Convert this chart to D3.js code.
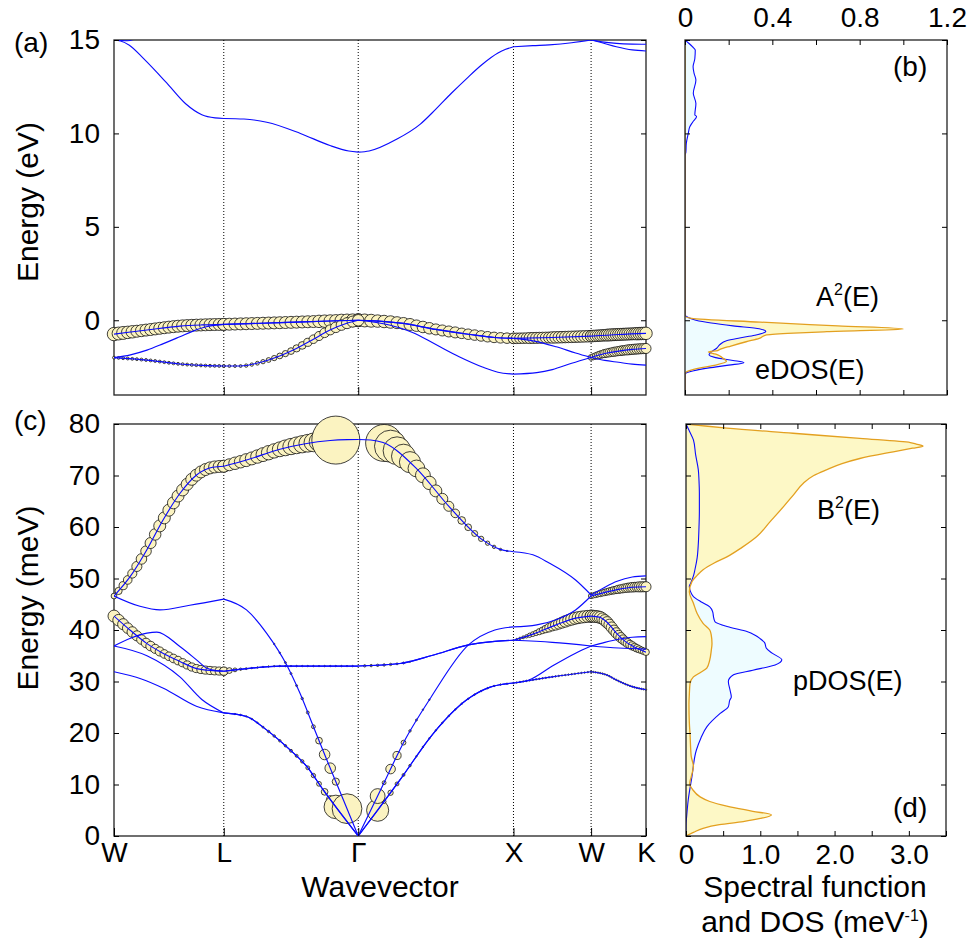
<!DOCTYPE html>
<html>
<head>
<meta charset="utf-8">
<script src="https://cdn.jsdelivr.net/npm/d3@7"></script>
<style>
  html, body { margin: 0; padding: 0; background: #fff; }
  svg { display: block; }
</style>
</head>
<body>
<svg id="fig" width="971" height="948"></svg>
<script>
// ---------- k-path W–L–Γ–X–W–K of the fcc Brillouin zone ----------
const pathLabels = ["W", "L", "Γ", "X", "W", "K"];
const pathK = [0, 0.7071, 1.5731, 2.5731, 3.0731, 3.4267];   // |k| in units of 2π/a
const nPerSegment = 24;                                      // k-points per segment

// ---------- electron bands (eV): [path position, energy]; positions 0..5 = W, L, Γ, X, W, K ----------
const cond1 = [[0,15.0],[0.06,14.95],[0.14,14.72],[0.27,14.0],[0.48,12.7],[0.65,11.6],[0.8,11.0],[0.92,10.83],[1,10.8],
  [1.15,10.77],[1.32,10.6],[1.57,10.0],[1.79,9.35],[1.93,9.06],[2,9.0],
  [2.07,9.06],[2.25,9.7],[2.4,10.5],[2.5,11.3],[2.6,12.15],[2.7,12.95],[2.8,13.7],[2.9,14.3],[2.95,14.5],[3,14.64],
  [3.25,14.7],[3.46,14.74],[3.75,14.85],[4,15.0],[4.2,14.9],[4.46,14.82],[4.75,14.78],[5,14.77]];
const cond2a = [[0,15.0],[0.12,14.96],[0.3,15.4]];
const cond2b = [[3.7,15.6],[3.85,15.25],[4,15.0],[4.2,14.85],[4.46,14.64],[4.75,14.47],[5,14.41]];
const val3 = [[0,-0.74],[0.15,-0.63],[0.3,-0.52],[0.6,-0.31],[0.8,-0.25],[1,-0.22],
  [1.42,-0.13],[1.79,-0.04],[1.93,-0.01],[2,0.0],[2.07,-0.02],[2.29,-0.17],[2.5,-0.49],[2.72,-0.76],[2.88,-0.92],[3,-0.97],
  [3.5,-0.92],[4,-0.85],[4.5,-0.76],[5,-0.70]];
const val2 = [[0,-2.0],[0.15,-1.85],[0.3,-1.6],[0.45,-1.25],[0.6,-0.88],[0.72,-0.58],[0.84,-0.35],[0.93,-0.26],[1,-0.22],
  [1.42,-0.13],[1.79,-0.04],[1.93,-0.01],[2,0.0],[2.07,-0.02],[2.29,-0.17],[2.5,-0.49],[2.72,-0.76],[2.88,-0.92],[3,-0.97],
  [3.25,-1.1],[3.55,-1.42],[3.8,-1.75],[4,-1.99],[4.25,-2.15],[4.5,-2.25],[4.75,-2.35],[5,-2.4]];
const val1 = [[0,-2.0],[0.3,-2.13],[0.6,-2.34],[0.85,-2.43],[1,-2.45],
  [1.12,-2.45],[1.29,-2.22],[1.42,-1.9],[1.54,-1.51],[1.67,-1.0],[1.79,-0.52],[1.91,-0.17],[2,0.0],
  [2.2,-0.25],[2.35,-0.65],[2.5,-1.3],[2.65,-1.95],[2.8,-2.5],[2.9,-2.78],[3,-2.88],
  [3.3,-2.8],[3.5,-2.64],[3.75,-2.3],[4,-1.99],[4.25,-1.78],[4.5,-1.65],[4.75,-1.56],[5,-1.51]];

// ---------- phonon branches (meV) ----------
const ph6 = [[0,46.6],[0.145,50.3],[0.297,55.5],[0.448,61.4],[0.6,66.5],[0.752,70.1],[0.9,71.6],[1,71.8],
  [1.169,73.0],[1.418,75.1],[1.791,76.8],[1.92,76.97],[2,77.0],
  [2.08,76.9],[2.16,76.4],[2.374,71.4],[2.587,63.9],[2.801,57.5],[2.91,55.7],[3,55.2],
  [3.25,54.6],[3.46,53.0],[3.8,49.7],[4,46.8],[4.25,48.3],[4.46,49.4],[4.75,50.3],[5,50.5]];
const ph5 = [[0,46.6],[0.236,44.6],[0.418,43.9],[0.69,44.8],[1,46.0],
  [1.169,43.9],[1.318,39.4],[1.468,33.2],[1.567,27.7],[1.667,21.2],[1.766,14.8],[1.89,7.0],[2,0],
  [2.15,9.3],[2.3,18.6],[2.47,27.0],[2.71,37.1],[2.88,40.0],[3,40.6],
  [3.3,41.0],[3.55,42.0],[3.8,43.9],[4,46.6],[4.25,47.3],[4.5,47.9],[4.75,48.3],[5,48.4]];
const ph4 = [[0,42.7],[0.145,40.0],[0.297,37.4],[0.445,35.5],[0.6,33.9],[0.752,32.5],[0.9,32.1],[1,32.0],
  [1.169,32.5],[1.418,33.0],[1.7,33.0],[2,33.0],
  [2.27,33.5],[2.48,35.1],[2.71,37.1],[2.88,37.8],[3,38.0],
  [3.25,39.2],[3.55,41.0],[3.8,42.3],[4,42.7],[4.15,42.5],[4.3,41.4],[4.46,39.4],[4.62,37.8],[4.77,36.8],[5,35.7]];
const ph3 = [[0,36.9],[0.15,38.4],[0.3,39.4],[0.39,39.6],[0.6,36.8],[0.752,34.2],[0.843,32.6],[0.93,32.1],[1,32.0],
  [1.169,32.5],[1.418,33.0],[1.7,33.0],[2,33.0],
  [2.27,33.5],[2.48,35.1],[2.71,37.1],[2.88,37.8],[3,38.0],
  [3.5,37.6],[4,36.9],[4.5,36.5],[5,36.3]];
const ph2 = [[0,36.9],[0.3,35.0],[0.6,30.9],[0.8,26.5],[1,23.9],
  [1.169,23.2],[1.318,20.6],[1.468,17.3],[1.617,13.5],[1.741,8.9],[1.89,3.7],[2,0],
  [2.13,5.2],[2.269,10.9],[2.483,19.9],[2.697,26.4],[2.85,28.9],[3,29.7],
  [3.2,30.3],[3.5,33.0],[3.8,35.5],[4,36.9],[4.25,37.6],[4.5,38.2],[4.75,38.6],[5,38.7]];
const ph1 = [[0,31.9],[0.25,30.5],[0.45,28.7],[0.75,25.2],[1,23.9],
  [1.169,23.2],[1.318,20.6],[1.468,17.3],[1.617,13.5],[1.741,8.9],[1.89,3.7],[2,0],
  [2.13,5.2],[2.269,10.9],[2.483,19.9],[2.697,26.4],[2.85,28.9],[3,29.7],
  [3.5,30.9],[4,31.9],[4.3,31.2],[4.46,30.3],[4.75,29.0],[5,28.4]];

// ---------- coupling weights (0–100) at the k-points of each segment; null = not shown ----------
const wVal3 = [
  [28,27,27,26,26,25,25,25,25,25,25,25,25,25,25,25,25,25,25,25,25,25,25,25,25],
  [25,25,25,25,25,25,25,25,25,25,25,25,25,25,25,25,25,26,26,26,26,27,27,27,27],
  [27,27,27,26,26,26,25,25,25,24,24,24,23,23,23,23,22,22,22,22,22,22,22,22,22],
  [22,22,22,22,22,23,23,23,23,23,23,23,24,24,24,24,24,24,24,24,24,24,24,24,24],
  [24,24,24,24,24,24,24,25,25,25,25,25,25,25,25,25,25,25,25,25,26,26,26,26,26]];
const wVal1 = [
  [6,6,6,6,6,6,6,6,6,6,6,6,6,6,6,6,6,6,6,6,6,6,6,6,6],
  [6,6,6,6,7,7,8,9,10,11,12,13,14,15,16,17,18,19,20,21,22,22,23,23,24],
  null, null,
  [12,13,14,15,16,16,17,17,18,18,19,19,19,20,20,20,21,21,21,21,21,21,21,21,21]];
const wPh6 = [
  [12,15,17,18,19,21,22,22,23,24,25,25,25,25,25,25,25,25,25,25,25,25,25,25,25],
  [25,25,26,26,27,27,28,29,30,30,31,33,34,35,36,37,39,41,43,46,100,0,0,0,0],
  [0,0,0,0,77,67,58,50,44,35,31,28,25,23,21,18,16,14,12.5,11,9,7,5,3,0],
  null, null];
const wPh5 = [
  null,
  [0,0,0,0,0,0,0,0,0,3,3,4,4,4,5,6,8,14,22,22,15,0,62,0,0],
  [0,0,0,31,8,20,17,10,5,4,3,3,0,0,0,0,0,0,0,0,0,0,0,0,0],
  null,
  [11,11,12,12,13,13,14,14,15,15,16,16,17,17,18,18,19,19,20,20,20,21,21,21,21]];
const wPh4 = [
  [25,24,23,22,22,21,20,20,20,19,19,18,18,18,18,17,17,17,17,17,17,17,17,17,17],
  [17,12,8,5,4,3,3,3,3,3,3,3,3,3,3,3,3,3,3,3,3,3,3,3,0],
  [0,5,5,5,5,5,4,4,3,0,0,0,0,0,0,0,0,0,0,0,0,0,0,0,0],
  [3,4,5,6,7,9,10,11,13,14,16,18,19,21,22,23,24,24,25,25,25,25,25,25,25],
  [25,25,25,25,25,24,24,24,23,23,22,22,21,21,20,19,19,18,17,16,16,15,14,14,14]];
const wPh1 = [
  null,
  [0,0,3,3,3,3,3,4,5,5,5,5,6,6,7,8,9,10,14,16,49,0,0,0,0],
  [0,0,0,46,8,11,8,6,5,3,3,3,3,3,3,3,3,3,3,3,3,3,3,3,0],
  [3,3,3,3,3,3,3,3,3,3,3,3,3,3,3,3,3,3,3,3,3,3,3,3,3],
  [3,3,3,3,3,3,3,3,3,3,3,3,3,3,3,3,3,3,3,3,3,3,3,3,3]];

// ---------- densities of states and spectral functions: [energy, value] ----------
const eDOS = [[-4,0],[-2.9,0],[-2.8,0.01],[-2.7,0.04],[-2.55,0.11],[-2.4,0.2],[-2.27,0.27],[-2.15,0.22],[-2.0,0.14],
  [-1.85,0.11],[-1.7,0.12],[-1.5,0.145],[-1.3,0.16],[-1.1,0.19],[-0.95,0.25],[-0.8,0.32],[-0.6,0.37],[-0.45,0.34],
  [-0.3,0.22],[-0.15,0.12],[0.0,0.05],[0.15,0.015],[0.3,0],[8.8,0],[9.0,0.004],[9.47,0.006],[10.0,0.015],[10.36,0.022],
  [10.6,0.035],[10.9,0.053],[11.0,0.045],[11.6,0.05],[12.15,0.038],[12.86,0.05],[13.2,0.042],[13.57,0.037],[14.0,0.045],
  [14.46,0.047],[14.63,0.035],[14.8,0.02],[15,0.0]];
const A2E = [[-4,0],[-2.85,0],[-2.7,0.02],[-2.55,0.07],[-2.4,0.14],[-2.2,0.19],[-2.0,0.17],[-1.85,0.15],[-1.78,0.13],
  [-1.7,0.107],[-1.62,0.15],[-1.56,0.16],[-1.38,0.21],[-1.15,0.28],[-0.97,0.34],[-0.79,0.37],[-0.7,0.47],[-0.61,0.65],
  [-0.47,1.0],[-0.3,0.7],[-0.1,0.344],[0.1,0.03],[0.22,0],[15,0]];
const pDOS = [[0,0],[2,0.0],[4,0.01],[7,0.03],[11.5,0.08],[16.7,0.14],[19,0.2],[21.2,0.28],[23.8,0.46],[25.1,0.57],
  [26.4,0.59],[27,0.61],[28.5,0.59],[30,0.57],[31.3,0.64],[32.2,0.9],[33.2,1.2],[34.2,1.29],[35.5,1.16],[36.5,1.08],
  [37.5,1.06],[38.3,1.0],[39.0,0.93],[39.7,0.82],[40.5,0.6],[41.6,0.39],[42.6,0.37],[43.5,0.36],[44.5,0.32],[45.5,0.2],
  [46.5,0.1],[47.5,0.06],[48.5,0.045],[49.1,0.063],[50.5,0.1],[51.7,0.12],[54,0.15],[56.8,0.166],[60,0.175],[63,0.18],
  [66.6,0.18],[69,0.175],[71.1,0.166],[74,0.13],[76.9,0.1],[78.5,0.05],[80,0]];
const B2E = [[0,0],[0.7,0.1],[1.5,0.23],[2.2,0.45],[2.8,0.77],[3.4,1.0],[4.1,1.15],[4.8,0.9],[5.8,0.55],[6.7,0.32],
  [7.6,0.19],[9,0.09],[10.2,0.05],[11.5,0.07],[13.5,0.1],[15.5,0.07],[19.9,0.054],[22,0.045],[25.6,0.04],[27.5,0.045],
  [29.6,0.054],[30.9,0.1],[31.8,0.2],[32.6,0.28],[34.2,0.32],[36,0.34],[37.4,0.35],[39,0.34],[40,0.32],[41.3,0.23],
  [43.2,0.15],[45.2,0.1],[47.4,0.045],[49.4,0.08],[50.6,0.15],[51.7,0.23],[53,0.38],[54.2,0.55],[56,0.75],[58.1,0.95],
  [61,1.13],[63.9,1.31],[66.3,1.45],[68.5,1.58],[70,1.72],[71.1,1.89],[72.3,2.1],[73.3,2.34],[74.6,2.79],[75.3,3.05],
  [75.7,3.19],[76.1,3.1],[76.4,3.02],[77.2,2.34],[78.2,1.44],[79.2,0.55],[79.7,0.2],[80,0]];

// ---------- tick values ----------
const energyTicksEl = [0, 5, 10, 15];
const energyTicksPh = [0, 10, 20, 30, 40, 50, 60, 70, 80];
const specTicksTop = [0, 0.2, 0.4, 0.6, 0.8, 1.0, 1.2];
const specLabelsTop = ["0", "", "0.4", "", "0.8", "", "1.2"];
const specTicksBottom = [0, 0.5, 1, 1.5, 2, 2.5, 3, 3.5];
const specLabelsBottom = ["0", "", "1.0", "", "2.0", "", "3.0", ""];

// ---------- styling ----------
const FONT = "'Liberation Sans', Arial, Helvetica, sans-serif";
const FS = 28;          // tick labels, panel tags
const FS_TITLE = 30;    // axis titles
const FS_INSET = 27;    // curve names inside the panels
const BLUE = "#0a0aff", ORANGE = "#e3a020";
const YELLOW_FILL = "#fdf8c6", CYAN_FILL = "#eefcff", DOT_FILL = "#fbf3c1";

const panelA = {x0: 114, x1: 646, y0: 40, y1: 395};
const panelB = {x0: 685, x1: 947, y0: 40, y1: 395};
const panelC = {x0: 114, x1: 646, y0: 424, y1: 836};
const panelD = {x0: 686, x1: 946, y0: 424, y1: 836};

// ---------- scales ----------
const kToX = d3.scaleLinear().domain([0, pathK[5]]).range([panelA.x0, panelA.x1]);
const xPath = d3.scaleLinear().domain(d3.range(6)).range(pathK.map(kToX));
const yA = d3.scaleLinear().domain([-4, 15]).range([panelA.y1, panelA.y0]);
const yC = d3.scaleLinear().domain([0, 80]).range([panelC.y1, panelC.y0]);
const xB = d3.scaleLinear().domain([0, 1.2]).range([panelB.x0, panelB.x1]);
const xD = d3.scaleLinear().domain([0, 3.5]).range([panelD.x0, panelD.x1]);
const rW = d3.scaleLinear().domain([0, 100]).range([0, 24]);

const svg = d3.select("#fig");
const defs = svg.append("defs");
function addClip(id, p) {
  defs.append("clipPath").attr("id", id).append("rect")
    .attr("x", p.x0).attr("y", p.y0).attr("width", p.x1 - p.x0).attr("height", p.y1 - p.y0);
}
addClip("clipA", panelA); addClip("clipB", panelB); addClip("clipC", panelC); addClip("clipD", panelD);

function styleAxis(g) {
  g.attr("font-size", FS).attr("font-family", FONT);
  g.select(".domain").remove();
  g.selectAll(".tick line").attr("stroke", "#000").attr("stroke-width", 1);
  g.selectAll(".tick text").attr("fill", "#000");
}

function frame(p) {
  svg.append("rect").attr("x", p.x0).attr("y", p.y0).attr("width", p.x1 - p.x0).attr("height", p.y1 - p.y0)
    .attr("fill", "none").attr("stroke", "#222").attr("stroke-width", 1.3);
}

// ---------- band-structure panels ----------
function bandPanel(p, yScale, bands, weighted, clipId) {
  // dotted lines at interior high-symmetry points
  svg.append("g").selectAll("line").data([1, 2, 3, 4]).join("line")
    .attr("x1", d => xPath(d)).attr("x2", d => xPath(d))
    .attr("y1", p.y0).attr("y2", p.y1)
    .attr("stroke", "#000").attr("stroke-width", 1).attr("stroke-dasharray", "1,2");

  const gCircles = svg.append("g");
  const gLines = svg.append("g").attr("clip-path", `url(#${clipId})`);
  const line = d3.line().x(d => xPath(d[0])).y(d => yScale(d[1])).curve(d3.curveMonotoneX);

  // each band segment is its own path so kinks at the zone points stay sharp
  const nodes = bands.map(band => {
    const segNodes = [];
    for (let s = 0; s < 5; s++) {
      const pts = band.filter(d => d[0] >= s && d[0] <= s + 1);
      if (pts.length < 2) { segNodes.push(null); continue; }
      const path = gLines.append("path").attr("d", line(pts))
        .attr("fill", "none").attr("stroke", BLUE).attr("stroke-width", 1.15);
      segNodes.push(path.node());
    }
    return segNodes;
  });

  function yAt(node, x) {
    let lo = 0, hi = node.getTotalLength();
    for (let i = 0; i < 40; i++) {
      const m = (lo + hi) / 2;
      if (node.getPointAtLength(m).x < x) lo = m; else hi = m;
    }
    return node.getPointAtLength((lo + hi) / 2).y;
  }

  weighted.forEach(([bandIdx, weights]) => {
    const marks = [];
    weights.forEach((list, s) => {
      if (!list) return;
      const node = nodes[bandIdx][s];
      list.forEach((w, i) => {
        if (w <= 0) return;
        const x = xPath(s + i / nPerSegment);
        marks.push({x, y: yAt(node, x), r: rW(w)});
      });
    });
    gCircles.append("g").selectAll("circle").data(marks).join("circle")
      .attr("cx", d => d.x).attr("cy", d => d.y).attr("r", d => d.r)
      .attr("fill", DOT_FILL).attr("stroke", "#111").attr("stroke-width", 0.8);
  });
}

frame(panelA);
bandPanel(panelA, yA, [cond1, cond2a, cond2b, val2, val1, val3], [[5, wVal3], [4, wVal1]], "clipA");
frame(panelC);
bandPanel(panelC, yC, [ph1, ph2, ph3, ph4, ph5, ph6], [[0, wPh1], [3, wPh4], [4, wPh5], [5, wPh6]], "clipC");

// axes of the band panels
svg.append("g").attr("transform", `translate(${panelA.x0},0)`)
  .call(d3.axisLeft(yA).tickValues(energyTicksEl).tickSize(-5).tickPadding(14)).call(styleAxis);
svg.append("g").attr("transform", `translate(${panelA.x1},0)`)
  .call(d3.axisRight(yA).tickValues(energyTicksEl).tickSize(-5).tickFormat("")).call(styleAxis);
svg.append("g").attr("transform", `translate(0,${panelA.y1})`)
  .call(d3.axisBottom(xPath).tickValues([1, 2, 3, 4]).tickSize(-8).tickFormat("")).call(styleAxis);

svg.append("g").attr("transform", `translate(${panelC.x0},0)`)
  .call(d3.axisLeft(yC).tickValues(energyTicksPh).tickSize(-5).tickPadding(14)).call(styleAxis);
svg.append("g").attr("transform", `translate(${panelC.x1},0)`)
  .call(d3.axisRight(yC).tickValues(energyTicksPh).tickSize(-5).tickFormat("")).call(styleAxis);
svg.append("g").attr("transform", `translate(0,${panelC.y1})`)
  .call(d3.axisBottom(xPath).tickValues(d3.range(6)).tickSize(-8).tickPadding(6)
    .tickFormat(i => pathLabels[i])).call(styleAxis);

// ---------- spectral-function panels ----------
// specOnTop decides which filled curve covers the other
function specPanel(p, xScale, yScale, dos, spec, clipId, specOnTop) {
  const g = svg.append("g").attr("clip-path", `url(#${clipId})`);
  const area = d3.area().curve(d3.curveMonotoneY)
    .y(d => yScale(d[0])).x0(xScale(0)).x1(d => xScale(d[1]));
  const line = d3.line().curve(d3.curveMonotoneY).y(d => yScale(d[0])).x(d => xScale(d[1]));
  const fills = specOnTop ? [[dos, CYAN_FILL], [spec, YELLOW_FILL]] : [[spec, YELLOW_FILL], [dos, CYAN_FILL]];
  fills.forEach(([data, color]) => g.append("path").attr("d", area(data)).attr("fill", color));
  g.append("path").attr("d", line(dos)).attr("fill", "none").attr("stroke", BLUE).attr("stroke-width", 1.1);
  g.append("path").attr("d", line(spec)).attr("fill", "none").attr("stroke", ORANGE).attr("stroke-width", 1.3);
  frame(p);
}

specPanel(panelB, xB, yA, eDOS, A2E, "clipB", false);
specPanel(panelD, xD, yC, pDOS, B2E, "clipD", true);

svg.append("g").attr("transform", `translate(0,${panelB.y0})`)
  .call(d3.axisTop(xB).tickValues(specTicksTop).tickSize(-5).tickPadding(13)
    .tickFormat((d, i) => specLabelsTop[i])).call(styleAxis);
svg.append("g").attr("transform", `translate(0,${panelB.y1})`)
  .call(d3.axisBottom(xB).tickValues(specTicksTop).tickSize(-5).tickFormat("")).call(styleAxis);
svg.append("g").attr("transform", `translate(${panelB.x0},0)`)
  .call(d3.axisLeft(yA).tickValues(energyTicksEl).tickSize(-5).tickFormat("")).call(styleAxis);
svg.append("g").attr("transform", `translate(${panelB.x1},0)`)
  .call(d3.axisRight(yA).tickValues(energyTicksEl).tickSize(-5).tickFormat("")).call(styleAxis);

svg.append("g").attr("transform", `translate(0,${panelD.y1})`)
  .call(d3.axisBottom(xD).tickValues(specTicksBottom).tickSize(-5).tickPadding(8)
    .tickFormat((d, i) => specLabelsBottom[i])).call(styleAxis);
svg.append("g").attr("transform", `translate(0,${panelD.y0})`)
  .call(d3.axisTop(xD).tickValues(specTicksBottom).tickSize(-5).tickFormat("")).call(styleAxis);
svg.append("g").attr("transform", `translate(${panelD.x0},0)`)
  .call(d3.axisLeft(yC).tickValues(energyTicksPh).tickSize(-5).tickFormat("")).call(styleAxis);
svg.append("g").attr("transform", `translate(${panelD.x1},0)`)
  .call(d3.axisRight(yC).tickValues(energyTicksPh).tickSize(-5).tickFormat("")).call(styleAxis);

// ---------- text ----------
function text(x, y, s, anchor = "start", size = FS) {
  return svg.append("text").attr("x", x).attr("y", y).attr("font-family", FONT).attr("font-size", size)
    .attr("text-anchor", anchor).attr("fill", "#000").text(s);
}
function supText(x, y, base, sup, tail, anchor = "start", size = FS) {
  const t = svg.append("text").attr("x", x).attr("y", y).attr("font-family", FONT).attr("font-size", size)
    .attr("text-anchor", anchor).attr("fill", "#000");
  t.append("tspan").text(base);
  t.append("tspan").attr("font-size", 16).attr("dy", -11).text(sup);
  t.append("tspan").attr("dy", 11).text(tail);
  return t;
}

text(14, 52, "(a)");
text(14, 430, "(c)");
text(893, 76, "(b)");
text(893, 817, "(d)");
supText(816, 306, "A", "2", "(E)", "start", FS_INSET);
text(755, 379, "eDOS(E)", "start", FS_INSET);
supText(817, 519, "B", "2", "(E)", "start", FS_INSET);
text(793, 690, "pDOS(E)", "start", FS_INSET);

svg.append("text").attr("transform", "translate(38,202) rotate(-90)").attr("text-anchor", "middle")
  .attr("font-family", FONT).attr("font-size", FS_TITLE).text("Energy (eV)");
svg.append("text").attr("transform", "translate(38,598) rotate(-90)").attr("text-anchor", "middle")
  .attr("font-family", FONT).attr("font-size", FS_TITLE).text("Energy (meV)");
text(380, 897, "Wavevector", "middle", FS_TITLE);
text(815, 897, "Spectral function", "middle", FS_TITLE);
supText(815, 932, "and DOS (meV", "-1", ")", "middle", FS_TITLE);
</script>
</body>
</html>
